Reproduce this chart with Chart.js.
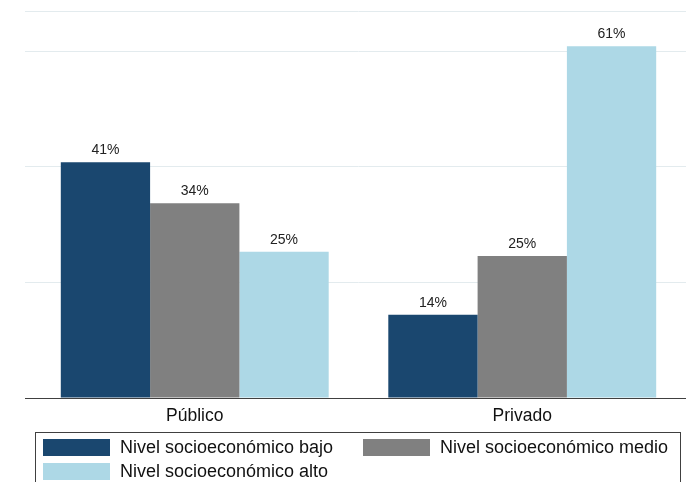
<!DOCTYPE html>
<html>
<head>
<meta charset="utf-8">
<script src="https://cdn.jsdelivr.net/npm/chart.js@4.4.1/dist/chart.umd.min.js"></script>
<style>
  html, body { margin: 0; padding: 0; background: #fff; overflow: hidden; }
  #wrap { position: relative; width: 686px; height: 482px; }
  #c { position: absolute; left: 0; top: 0; }
  #legend {
    position: absolute; left: 35px; top: 432px; width: 646px; height: 70px;
    border: 1px solid #404040; box-sizing: border-box;
    font-family: "Liberation Sans", Arial, sans-serif; font-size: 18px; color: #111;
    padding: 6px 0 0 7px;
    display: grid; grid-template-columns: 320px 320px; grid-auto-rows: 24px;
  }
  .item { display: flex; align-items: flex-start; height: 24px; }
  .sw { width: 67px; height: 17px; margin-right: 10px; flex: none; }
  .tx { line-height: 17px; white-space: nowrap; }
</style>
</head>
<body>
<div id="wrap">
  <canvas id="c" width="686" height="482"></canvas>
  <div id="legend"></div>
</div>
<script>
const categories = ['Público', 'Privado'];
const seriesLabels = ['Nivel socioeconómico bajo', 'Nivel socioeconómico medio', 'Nivel socioeconómico alto'];
const bajo = [40.8, 14.4];
const medio = [33.7, 24.6];
const alto = [25.3, 60.9];
const seriesColors = ['#1a476f', '#808080', '#add8e6'];
const yTicks = [0, 20, 40, 60, 67];

const FONT = '"Liberation Sans", Arial, sans-serif';

const valueLabels = {
  id: 'valueLabels',
  afterDatasetsDraw(chart) {
    const ctx = chart.ctx;
    ctx.save();
    ctx.font = '14px ' + FONT;
    ctx.fillStyle = '#222';
    ctx.textAlign = 'center';
    ctx.textBaseline = 'alphabetic';
    chart.data.datasets.forEach((ds, i) => {
      const meta = chart.getDatasetMeta(i);
      meta.data.forEach((el, j) => {
        ctx.fillText(Math.round(ds.data[j]) + '%', el.x, el.y - 8);
      });
    });
    ctx.restore();
  }
};

const seriesData = [bajo, medio, alto];

const chart = new Chart(document.getElementById('c'), {
  type: 'bar',
  data: {
    labels: categories,
    datasets: seriesLabels.map((lab, i) => ({
      label: lab,
      data: seriesData[i],
      backgroundColor: seriesColors[i],
      borderWidth: 0,
      categoryPercentage: 0.818,
      barPercentage: 1.0
    }))
  },
  options: {
    responsive: false,
    animation: false,
    layout: { padding: { left: 25, right: 0, top: 11, bottom: 55 } },
    plugins: {
      legend: { display: false },
      tooltip: { enabled: false }
    },
    scales: {
      x: {
        grid: { display: false },
        border: { display: true, color: '#404040', width: 1 },
        ticks: {
          color: '#111',
          font: { family: FONT, size: 17.5 },
          padding: 0
        }
      },
      y: {
        min: 0,
        max: 67,
        afterBuildTicks(scale) { scale.ticks = yTicks.map(v => ({ value: v })); },
        ticks: { display: false },
        border: { display: false },
        grid: {
          drawTicks: true,
          tickLength: 6,
          lineWidth: 1,
          color: (c) => (c.tick && c.tick.value === 0) ? '#404040' : '#e3ebee'
        }
      }
    }
  },
  plugins: [valueLabels]
});

const legendEl = document.getElementById('legend');
chart.data.datasets.forEach(ds => {
  const item = document.createElement('div');
  item.className = 'item';
  const sw = document.createElement('span');
  sw.className = 'sw';
  sw.style.background = ds.backgroundColor;
  const tx = document.createElement('span');
  tx.className = 'tx';
  tx.textContent = ds.label;
  item.appendChild(sw);
  item.appendChild(tx);
  legendEl.appendChild(item);
});
</script>
</body>
</html>
